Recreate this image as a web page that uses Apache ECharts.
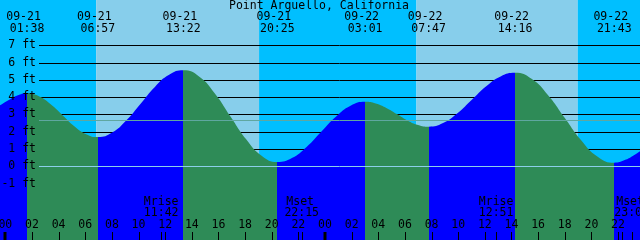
<!DOCTYPE html>
<html><head><meta charset="utf-8">
<style>html,body{margin:0;padding:0;background:#fff}#chart{width:640px;height:240px}</style>
<script src="https://cdn.jsdelivr.net/npm/echarts@6/dist/echarts.min.js"></script>
</head><body><div id="chart"></div>
<script>
// ---------------- data (hours counted from 09-21 00:00) ----------------
const chartTitle = 'Point Arguello, California';
const tideHours = [-0.5, 0.4, 1.0, 1.633, 2.519, 3.405, 4.292, 5.178, 6.064, 6.95, 8.019, 9.089, 10.158, 11.228, 12.297, 13.367, 14.542, 15.717, 16.892, 18.067, 19.242, 20.417, 21.517, 22.617, 23.717, 24.817, 25.917, 27.017, 27.811, 28.606, 29.4, 30.194, 30.989, 31.783, 32.864, 33.944, 35.025, 36.106, 37.186, 38.267, 39.508, 40.75, 41.992, 43.233, 44.475, 45.717, 46.5, 47.1, 47.8];
const tideFeet = [3.48, 3.9, 4.12, 4.22, 4.05, 3.59, 2.96, 2.32, 1.86, 1.69, 1.95, 2.66, 3.62, 4.59, 5.29, 5.55, 5.2, 4.23, 2.9, 1.58, 0.61, 0.25, 0.48, 1.12, 2.0, 2.87, 3.51, 3.74, 3.64, 3.38, 3.02, 2.65, 2.39, 2.29, 2.5, 3.07, 3.85, 4.63, 5.2, 5.41, 5.06, 4.11, 2.81, 1.51, 0.56, 0.21, 0.36, 0.6, 0.95];
const tideEventHours = [1.633, 6.95, 13.367, 20.417, 27.017, 31.783, 38.267, 45.717];
const tideEventKinds = ['high', 'low', 'high', 'low', 'high', 'low', 'high', 'low'];
const tideEventDates = ['09-21', '09-21', '09-21', '09-21', '09-22', '09-22', '09-22', '09-22'];
const tideEventClock = ['01:38', '06:57', '13:22', '20:25', '03:01', '07:47', '14:16', '21:43'];
const sunEventHours = [6.82, 19.05, 30.87, 42.97];      // sunrise, sunset, sunrise, sunset
const moonEventHours = [11.7, 22.25, 36.85, 47.02];
const moonEventNames = ['Mrise', 'Mset', 'Mrise', 'Mset'];
const moonEventClock = ['11:42', '22:15', '12:51', '23:01'];
const extraTickHours = [46.27];
const hourTickHours = [0, 2, 4, 6, 8, 10, 12, 14, 16, 18, 20, 22, 24, 26, 28, 30, 32, 34, 36, 38, 40, 42, 44, 46];
const hourTickLabels = ['00', '02', '04', '06', '08', '10', '12', '14', '16', '18', '20', '22', '00', '02', '04', '06', '08', '10', '12', '14', '16', '18', '20', '22'];
const feetTicks = [7, 6, 5, 4, 3, 2, 1, 0, -1];
const meanLevelFeet = 2.66;
const datumFeet = 0;

// ---------------- view window / styling ----------------
const xMinHour = -0.4, xMaxHour = 47.65;
const yMinFeet = -4.26, yMaxFeet = 9.62;
const NIGHT = '#00BFFF', DAY = '#87CEEB', RISING = '#0000FF', FALLING = '#2E8B57';
const FONT = '11.5px "DejaVu Sans Mono", monospace';

// sky bands
const skyBands = [];
{
  let start = xMinHour, night = true;
  sunEventHours.forEach(h => { skyBands.push([start, h, night]); start = h; night = !night; });
  skyBands.push([start, xMaxHour, night]);
}

// rising/falling pieces
const pieces = [];
{
  let prev = null;
  tideEventHours.forEach((h, i) => {
    const color = tideEventKinds[i] === 'high' ? RISING : FALLING;
    const p = { color };
    if (prev !== null) p.gte = prev;
    p.lt = h;
    pieces.push(p);
    prev = h;
  });
  pieces.push({ gte: prev, color: tideEventKinds[tideEventKinds.length - 1] === 'high' ? FALLING : RISING });
}

const crisp = v => Math.round(v) + 0.5;
const allTickHours = hourTickHours.concat(moonEventHours, extraTickHours);

const chart = echarts.init(document.getElementById('chart'));

function textEl(text, x, y, align) {
  return { type: 'text', x, y, style: { text, font: FONT, fill: '#000', align: align || 'center', verticalAlign: 'middle' } };
}

chart.setOption({
  animation: false,
  grid: { left: 0, right: 0, top: 0, bottom: 0 },
  xAxis: { type: 'value', min: xMinHour, max: xMaxHour, show: false },
  yAxis: { type: 'value', min: yMinFeet, max: yMaxFeet, show: false },
  visualMap: { show: false, type: 'piecewise', dimension: 0, seriesIndex: 2, pieces },
  series: [
    { // sky
      type: 'custom', z: 1, silent: true,
      data: skyBands.map(b => [b[0], b[1]]),
      renderItem(params, api) {
        const b = skyBands[params.dataIndex];
        const p0 = api.coord([b[0], yMaxFeet]);
        const p1 = api.coord([b[1], yMinFeet]);
        return { type: 'rect', shape: { x: p0[0], y: p0[1], width: p1[0] - p0[0], height: p1[1] - p0[1] }, style: { fill: b[2] ? NIGHT : DAY } };
      }
    },
    { // grid lines
      type: 'custom', z: 2, silent: true,
      data: feetTicks.map(f => [0, f]),
      renderItem(params, api) {
        const y = crisp(api.coord([0, feetTicks[params.dataIndex]])[1]);
        return { type: 'line', shape: { x1: 39, y1: y, x2: 640, y2: y }, style: { stroke: '#000', lineWidth: 1 } };
      }
    },
    { // tide
      type: 'line', z: 3, silent: true, symbol: 'none', smooth: 0.5,
      data: tideHours.map((h, i) => [h, tideFeet[i]]),
      lineStyle: { width: 0 },
      areaStyle: { origin: 'start', opacity: 1 }
    },
    { // datum and mean lines
      type: 'custom', z: 4, silent: true,
      data: [[0, datumFeet], [0, meanLevelFeet]],
      renderItem(params, api) {
        const v = params.dataIndex === 0 ? datumFeet : meanLevelFeet;
        const y = crisp(api.coord([0, v])[1]);
        return { type: 'line', shape: { x1: 39, y1: y, x2: 640, y2: y }, style: { stroke: params.dataIndex === 0 ? '#8CCFEA' : '#5FA7A0', lineWidth: 1 } };
      }
    },
    { // bottom ticks
      type: 'custom', z: 5, silent: true, clip: false,
      data: allTickHours.map(h => [h, 0]),
      renderItem(params, api) {
        const i = params.dataIndex;
        const h = allTickHours[i];
        const x = api.coord([h, 0])[0];
        const midnight = i < hourTickHours.length && h % 24 === 0;
        const xx = midnight ? Math.round(x) : crisp(x);
        return { type: 'line', shape: { x1: xx, y1: 232, x2: xx, y2: 240 }, style: { stroke: '#000', lineWidth: midnight ? 3 : 1 } };
      }
    },
    { // texts
      type: 'custom', z: 6, silent: true, clip: false,
      data: [[0, 0]],
      renderItem(params, api) {
        const kids = [];
        kids.push(textEl(chartTitle, 319, 6));
        tideEventHours.forEach((h, i) => {
          const x = api.coord([h, 0])[0];
          kids.push(textEl(tideEventDates[i], x - 3.5, 17));
          kids.push(textEl(tideEventClock[i], x, 29));
        });
        feetTicks.forEach(f => {
          const y = api.coord([0, f])[1];
          kids.push(textEl(f + ' ft', 36, y, 'right'));
        });
        moonEventHours.forEach((h, i) => {
          const x = api.coord([h, 0])[0];
          const nameShift = moonEventNames[i].length < 5 ? -1.5 : 0;
          kids.push(textEl(moonEventNames[i], x + nameShift, 202));
          kids.push(textEl(moonEventClock[i], x, 213.5));
        });
        hourTickHours.forEach((h, i) => {
          const x = api.coord([h, 0])[0];
          kids.push(textEl(hourTickLabels[i], x, 225.5));
        });
        return { type: 'group', children: kids };
      }
    }
  ]
});
</script></body></html>
